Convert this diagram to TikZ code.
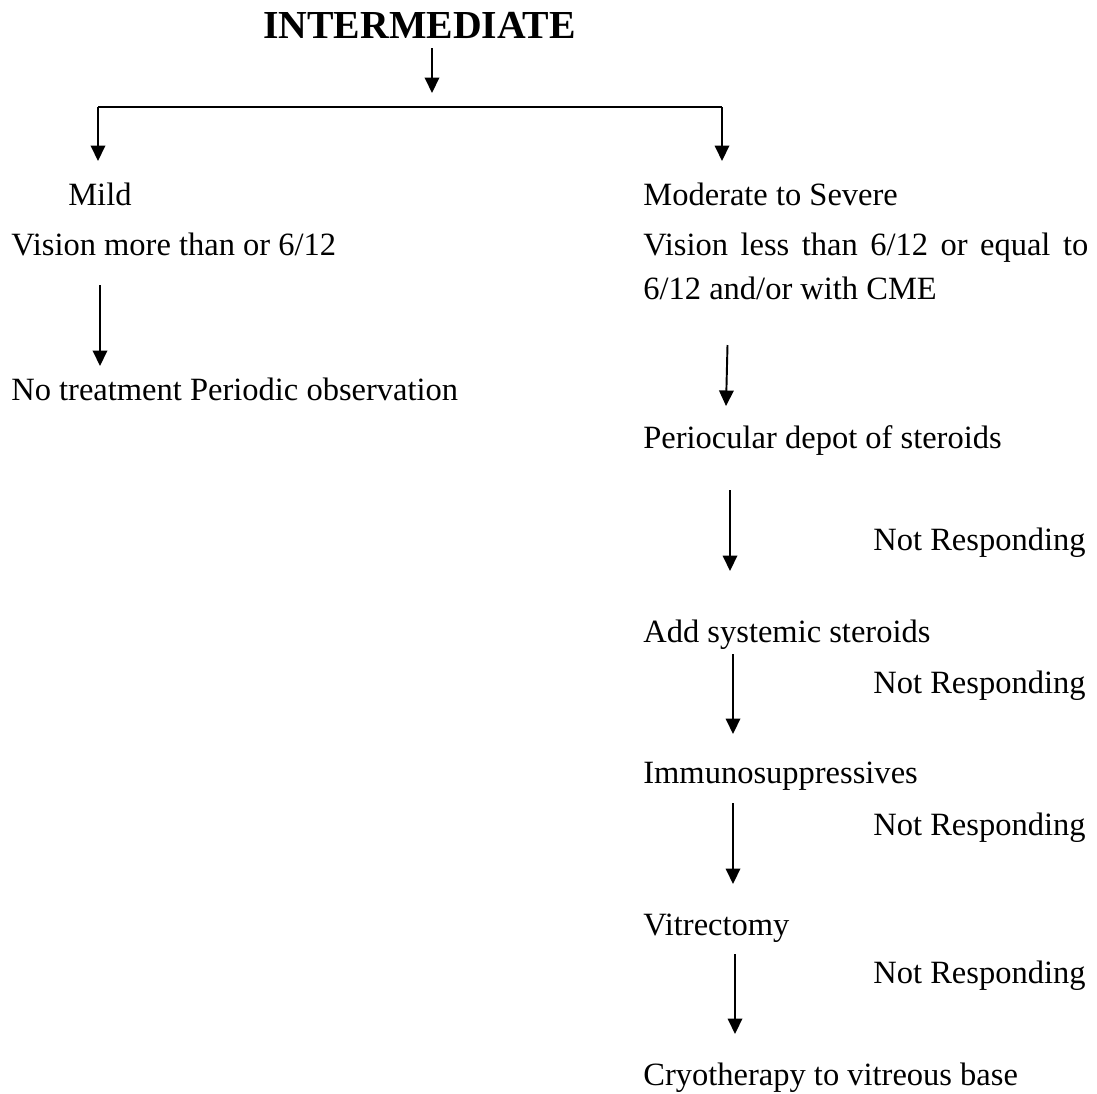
\documentclass[tikz,border=0pt]{standalone}
\usepackage{fontspec}
\setmainfont{Liberation Serif}
\usetikzlibrary{arrows.meta}
\tikzset{
  txt/.style={anchor=base west,inner sep=0pt,font=\fontsize{18.5}{22}\selectfont},
  flow/.style={line width=1.1pt,-{Triangle[length=0.31cm,width=0.29cm]}}
}
\begin{document}
\begin{tikzpicture}[x=0.02cm,y=-0.02cm]
                \useasboundingbox (0,0) rectangle (1097,1093);
                \node[txt,font=\fontsize{22.6}{26}\selectfont\bfseries] (title) at (263,38) {INTERMEDIATE};
                %% Left branch
                \node[txt] (mild) at (68,205) {Mild};
                \node[txt] (visl) at (11,255) {Vision more than or 6/12};
                \node[txt] (notr) at (11,400) {No treatment Periodic observation};
                %% Right branch
                \node[txt] (mod) at (643,205) {Moderate to Severe};
                \node[txt,text width=8.9cm,align=justify,font=\fontsize{18.5}{25.6}\selectfont] (visr) at (643,255)
                  {Vision less than 6/12 or equal to 6/12 and/or with CME};
                \node[txt] (peri) at (643,448) {Periocular depot of steroids};
                \node[txt] (syst) at (643,642) {Add systemic steroids};
                \node[txt] (immu) at (643,783) {Immunosuppressives};
                \node[txt] (vitr) at (643,935) {Vitrectomy};
                \node[txt] (cryo) at (643,1085) {Cryotherapy to vitreous base};
                \foreach \n/\y in {nr1/550,nr2/693,nr3/835,nr4/983}
                  \node[txt] (\n) at (873,\y) {Not Responding};
                %% Arrow ends
                \coordinate (t0) at (432,48);   \coordinate (t1) at (432,93);
                \coordinate (bl) at (98,107);   \coordinate (br) at (722,107);
                \coordinate (bl1) at (98,161);  \coordinate (br1) at (722,161);
                \coordinate (m0) at (100,285);  \coordinate (m1) at (100,366);
                \coordinate (s0) at (727.5,345);\coordinate (s1) at (726,406);
                \coordinate (p0) at (730,490);  \coordinate (p1) at (730,571);
                \coordinate (a0) at (733,654);  \coordinate (a1) at (733,734);
                \coordinate (i0) at (733,803);  \coordinate (i1) at (733,884);
                \coordinate (v0) at (735,954);  \coordinate (v1) at (735,1034);
                %% Connectors
                \draw[flow] (t0) -- (t1);
                \draw[line width=1.1pt] (bl) -- (br);
                \draw[flow] (bl) -- (bl1);
                \draw[flow] (br) -- (br1);
                \foreach \a/\b in {m0/m1,s0/s1,p0/p1,a0/a1,i0/i1,v0/v1}
                  \draw[flow] (\a) -- (\b);
            \end{tikzpicture}
\end{document}
